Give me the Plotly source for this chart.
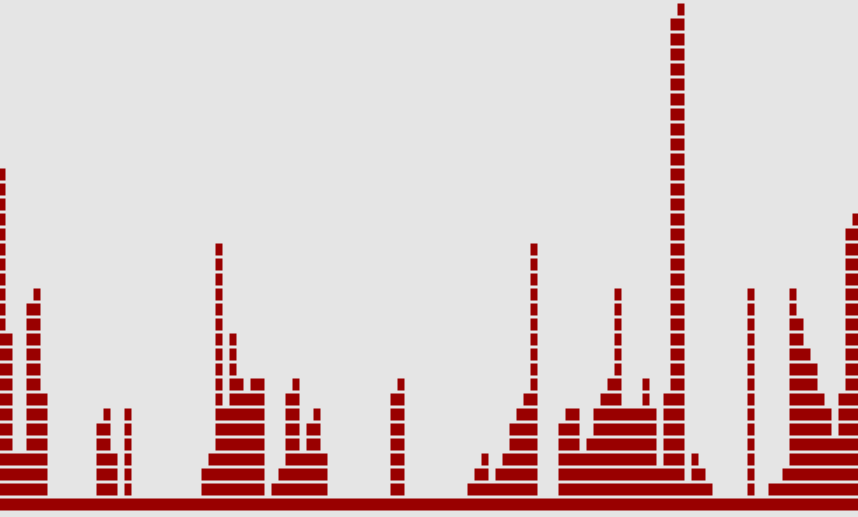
import plotly.graph_objects as go

# Count per bin (column height in stacked unit cells)
counts = [
    23, 12, 4, 4, 14, 15, 8,
    1, 1, 1, 1, 1, 1, 1,
    6, 7, 4, 1, 7,
    1, 1, 1, 1, 1, 1, 1, 1, 1, 1,
    3, 4, 18, 7, 12, 9, 8, 9, 9, 1,
    2, 3, 8, 9, 4, 6, 7, 4, 1,
    1, 1, 1, 1, 1, 1, 1, 1,
    8, 9,
    1, 1, 1, 1, 1, 1, 1, 1, 1,
    2, 3, 4, 2, 3, 4, 6, 7, 8, 18, 1, 1, 1,
    6, 7, 7, 4, 5, 7, 8, 9, 15, 7, 7, 7, 9, 7, 3, 8, 33, 34,
    2, 4, 3, 2, 1, 1, 1, 1, 1,
    15, 1, 1, 2, 2, 3, 15, 13, 11, 10, 8, 7, 5, 8, 19, 20,
]
bins = list(range(len(counts)))
levels = list(range(max(counts)))

# unit cells: cell (level, bin) is filled when the bin's count exceeds the level
z = [[1 if c > lv else None for c in counts] for lv in levels]

fig = go.Figure(
    go.Heatmap(
        x=bins,
        y=levels,
        z=z,
        zmin=0,
        zmax=1,
        colorscale=[[0, "#990000"], [1, "#990000"]],
        showscale=False,
        xgap=0,
        ygap=3,
        hoverinfo="skip",
    )
)

fig.update_layout(
    width=858,
    height=517,
    margin=dict(l=0, r=0, t=0, b=0),
    paper_bgcolor="#e5e5e5",
    plot_bgcolor="#e5e5e5",
    showlegend=False,
    xaxis=dict(visible=False, range=[-2 / 7, 856 / 7], showgrid=False, zeroline=False),
    yaxis=dict(visible=False, range=[-0.8, 505 / 15], showgrid=False, zeroline=False),
)

fig.write_html(
    "out.html",
    config={"displayModeBar": False},
    post_script="document.body.style.margin='0';document.body.style.overflow='hidden';",
)
